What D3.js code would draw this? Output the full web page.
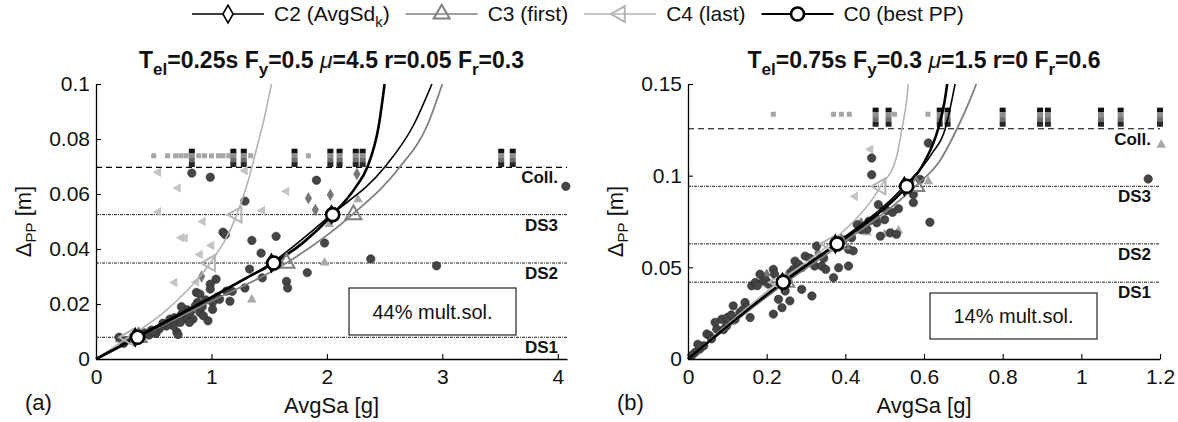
<!DOCTYPE html>
<html>
<head>
<meta charset="utf-8">
<script src="https://cdn.jsdelivr.net/npm/d3@7"></script>
<style>
body { margin: 0; background: #fff; }
text { font-family: "Liberation Sans", Arial, sans-serif; fill: #111; }
</style>
</head>
<body>
<div id="chart"></div>
<script>
// tick labels
var xTicksA = [0, 1, 2, 3, 4];
var yTicksA = [0, 0.02, 0.04, 0.06, 0.08, 0.1];
var xTicksB = [0, 0.2, 0.4, 0.6, 0.8, 1, 1.2];
var yTicksB = [0, 0.05, 0.1, 0.15];

// damage state thresholds [DS1, DS2, DS3, Coll.]
var dsNames = ["DS1", "DS2", "DS3", "Coll."];
var dsA = [0.0079, 0.0349, 0.0525, 0.0697];
var dsB = [0.0419, 0.0628, 0.0942, 0.1256];

var legendNames = ["C2 (AvgSd", "C3 (first)", "C4 (last)", "C0 (best PP)"];
var multSol = ["44% mult.sol.", "14% mult.sol."];

// fitted curves, panel a  [AvgSa, dPP]
var c0A = [[0, 0], [0.36, 0.0079], [0.7, 0.0155], [1.0, 0.0224], [1.3, 0.0294], [1.54, 0.0349], [1.8, 0.0425], [2.05, 0.0525], [2.25, 0.0625], [2.35, 0.0697], [2.45, 0.085], [2.5, 0.1]];
var c2A = [[0, 0], [0.34, 0.0079], [1.0, 0.0226], [1.52, 0.0349], [2.04, 0.0525], [2.5, 0.0697], [2.75, 0.085], [2.91, 0.1]];
var c3A = [[0, 0], [0.37, 0.0079], [1.0, 0.021], [1.65, 0.0349], [2.22, 0.0525], [2.63, 0.0697], [2.87, 0.085], [3.0, 0.1]];
var c4A = [[0, 0], [0.28, 0.0079], [0.55, 0.0157], [0.84, 0.0272], [0.99, 0.0349], [1.22, 0.0525], [1.32, 0.065], [1.4, 0.078], [1.46, 0.088], [1.52, 0.1]];

// fitted curves, panel b
var c0B = [[0, 0], [0.242, 0.0419], [0.379, 0.0628], [0.47, 0.077], [0.556, 0.0942], [0.6, 0.107], [0.636, 0.1256], [0.652, 0.14], [0.659, 0.15]];
var c2B = [[0, 0], [0.24, 0.0419], [0.375, 0.0628], [0.55, 0.0942], [0.62, 0.112], [0.654, 0.1256], [0.671, 0.1413], [0.679, 0.15]];
var c3B = [[0, 0], [0.25, 0.0419], [0.39, 0.0628], [0.578, 0.0942], [0.64, 0.108], [0.684, 0.1256], [0.717, 0.1413], [0.733, 0.15]];
var c4B = [[0, 0], [0.23, 0.0419], [0.36, 0.0628], [0.49, 0.0942], [0.53, 0.11], [0.544, 0.1256], [0.556, 0.1413], [0.56, 0.15]];

// markers where the curves cross DS1..DS3
var mk0A = [[0.36, 0.0079], [1.54, 0.0349], [2.05, 0.0525]];
var mk2A = [[0.34, 0.0079], [1.52, 0.0349], [2.04, 0.0525]];
var mk3A = [[0.37, 0.0079], [1.65, 0.0349], [2.23, 0.0525]];
var mk4A = [[0.28, 0.0079], [0.99, 0.0349], [1.22, 0.0525]];
var mk0B = [[0.242, 0.0419], [0.379, 0.0628], [0.556, 0.0942]];
var mk2B = [[0.24, 0.0419], [0.375, 0.0628], [0.55, 0.0942]];
var mk3B = [[0.25, 0.0419], [0.39, 0.0628], [0.58, 0.0942]];
var mk4B = [[0.23, 0.0419], [0.36, 0.0628], [0.49, 0.0942]];

// single records, panel a
var ptsCircA = [[0.83, 0.0676], [0.99, 0.0661], [1.29, 0.0574], [1.10, 0.0461], [1.12, 0.0452], [1.35, 0.0431], [1.56, 0.0446], [1.91, 0.065], [4.07, 0.0628],
  [1.43, 0.0385], [1.98, 0.0422], [2.38, 0.0364], [2.95, 0.0339], [1.83, 0.0314], [1.65, 0.0282], [1.66, 0.0258], [1.33, 0.0327], [1.44, 0.0295],
  [1.29, 0.0258], [1.04, 0.029], [1.18, 0.0246], [0.99, 0.0272], [0.99, 0.0254], [0.87, 0.0242], [0.9, 0.0236], [0.88, 0.0206], [1.01, 0.0206],
  [1.07, 0.0217], [1.16, 0.021], [1.13, 0.0247], [1.01, 0.018], [0.97, 0.0139], [0.9, 0.017], [0.82, 0.0173], [0.79, 0.0145], [0.73, 0.0133],
  [0.70, 0.0098], [0.71, 0.0089], [0.67, 0.012], [0.61, 0.012], [0.55, 0.011], [0.52, 0.0093], [0.46, 0.0087], [0.40, 0.0085], [0.48, 0.0105],
  [0.26, 0.0067], [0.20, 0.0079], [0.24, 0.0057], [0.79, 0.0179], [0.86, 0.0193], [0.74, 0.0162], [0.64, 0.0145], [0.84, 0.0145], [0.93, 0.0157],
  [0.81, 0.0133], [0.76, 0.017], [0.68, 0.015], [0.58, 0.013], [0.50, 0.01], [0.42, 0.0095], [0.35, 0.007], [0.92, 0.019], [1.05, 0.0225],
  [0.95, 0.0215], [0.74, 0.019]];
var ptsDiamA = [[1.84, 0.0585], [2.03, 0.0597], [1.9, 0.0543], [2.26, 0.0673], [0.915, 0.030], [0.3, 0.0075]];
var ptsUpA = [[2.27, 0.058], [1.98, 0.035], [1.35, 0.0216], [2.02, 0.049], [0.2, 0.007]];
var ptsLeftA = [[0.54, 0.0679], [0.71, 0.0622], [0.54, 0.0535], [0.925, 0.05], [0.77, 0.044], [1.29, 0.0685], [1.65, 0.061], [1.44, 0.054],
  [0.68, 0.0278], [0.9, 0.038], [1.0, 0.0413], [0.87, 0.028], [0.74, 0.0441], [0.21, 0.0068]];

// single records, panel b
var ptsCircB = [[0.018, 0.0036], [0.03, 0.0054], [0.04, 0.0072], [0.048, 0.0136], [0.055, 0.0127], [0.073, 0.0163], [0.069, 0.02], [0.086, 0.0217],
  [0.098, 0.018], [0.1, 0.0226], [0.115, 0.029], [0.12, 0.0217], [0.132, 0.0254], [0.145, 0.0308], [0.149, 0.0281], [0.158, 0.0226], [0.162, 0.0399],
  [0.171, 0.0417], [0.183, 0.0462], [0.191, 0.0426], [0.199, 0.0426], [0.217, 0.0489], [0.217, 0.0245], [0.22, 0.0462], [0.23, 0.0326],
  [0.239, 0.028], [0.247, 0.0371], [0.259, 0.0317], [0.254, 0.0426], [0.268, 0.0489], [0.272, 0.0534], [0.281, 0.0516], [0.289, 0.038],
  [0.298, 0.0561], [0.315, 0.0344], [0.322, 0.0507], [0.327, 0.0616], [0.34, 0.0507], [0.35, 0.0489], [0.37, 0.0444], [0.383, 0.0498],
  [0.408, 0.0507], [0.408, 0.0598], [0.42, 0.059], [0.416, 0.0661], [0.43, 0.0733], [0.455, 0.0707], [0.46, 0.0752], [0.48, 0.0743],
  [0.489, 0.067], [0.514, 0.0688], [0.53, 0.068], [0.467, 0.1096], [0.467, 0.1005], [0.484, 0.0842], [0.505, 0.081], [0.52, 0.08],
  [0.477, 0.077], [0.573, 0.0897], [0.573, 0.0853], [0.615, 0.0746], [0.611, 0.1178], [1.17, 0.0982], [0.01, 0.002], [0.025, 0.008],
  [0.06, 0.011], [0.09, 0.016], [0.11, 0.024], [0.14, 0.027], [0.176, 0.04], [0.205, 0.041], [0.26, 0.047], [0.29, 0.05], [0.31, 0.055],
  [0.345, 0.055], [0.395, 0.065], [0.44, 0.0705], [0.5, 0.076], [0.535, 0.082], [0.59, 0.098]];
var ptsDiamB = [[0.2, 0.046], [0.33, 0.058], [0.44, 0.074]];
var ptsUpB = [[0.519, 0.069], [0.611, 0.0969], [1.203, 0.1168], [0.455, 0.069], [0.5, 0.068], [0.535, 0.07], [0.255, 0.043], [0.11, 0.02]];
var ptsLeftB = [[0.464, 0.1144], [0.425, 0.0887], [0.2, 0.04]];

// collapsed records (drawn above Coll.)
var collBarsA = [0.83, 1.19, 1.28, 1.72, 2.03, 2.11, 2.25, 2.31, 3.51, 3.61];
var collDotsA = [0.50, 0.62, 0.69, 0.735, 0.78, 0.89, 0.94, 1.00, 1.06, 1.10, 1.15, 1.34, 1.84];
var collBarYA = [0.0756, 0.074, 0.0723, 0.0707];
var collDotYA = 0.0739;
var collBarsB = [0.477, 0.51, 0.64, 0.66, 0.80, 0.895, 0.915, 1.05, 1.10, 1.20];
var collDotsB = [0.217, 0.37, 0.39, 0.41, 0.525, 0.61];
var collBarYB = [0.1358, 0.1332, 0.1306, 0.128];
var collDotYB = 0.1335;

var W = 1178, H = 422;

var svg = d3.select("#chart").append("svg")
    .attr("width", W)
    .attr("height", H)
    .style("background", "#fff");

var panels = [
    { left: 96, right: 567, top: 84, bottom: 359, xMax: 4.08, yMax: 0.1, xTicks: xTicksA, yTicks: yTicksA, ds: dsA,
      curves: [c4A, c3A, c2A, c0A], marks: [mk4A, mk3A, mk2A, mk0A],
      circ: ptsCircA, diam: ptsDiamA, up: ptsUpA, leftTri: ptsLeftA,
      bars: collBarsA, dots: collDotsA, barY: collBarYA, dotY: collDotYA,
      title: ["0.25", "0.5", "4.5", "0.05", "0.3"], box: [349, 288, 167, 47], boxText: multSol[0], tag: "(a)" },
    { left: 688, right: 1160, top: 84, bottom: 359, xMax: 1.2, yMax: 0.15, xTicks: xTicksB, yTicks: yTicksB, ds: dsB,
      curves: [c4B, c3B, c2B, c0B], marks: [mk4B, mk3B, mk2B, mk0B],
      circ: ptsCircB, diam: ptsDiamB, up: ptsUpB, leftTri: ptsLeftB,
      bars: collBarsB, dots: collDotsB, barY: collBarYB, dotY: collDotYB,
      title: ["0.75", "0.3", "1.5", "0", "0.6"], box: [930, 293, 167, 46], boxText: multSol[1], tag: "(b)" }
];

// curve styles in order C4, C3, C2, C0
var curveColor = ["#b4b4b4", "#808080", "#000", "#000"];
var curveWidth = [1.6, 1.8, 1.6, 2.6];
var barColors = ["#111", "#8c8c8c", "#6c6c6c", "#262626"];

var triSym = d3.symbol().type(d3.symbolTriangle);
var diaSym = d3.symbol().type(d3.symbolDiamond);

// draws one curve marker (kind: 0=C4 left tri, 1=C3 tri, 2=C2 diamond, 3=C0 circle)
function marker(g, kind, x, y) {
    if (kind === 3) {
        g.append("circle").attr("cx", x).attr("cy", y).attr("r", 6.5)
            .attr("fill", "#fff").attr("stroke", "#000").attr("stroke-width", 2.6);
    } else if (kind === 2) {
        g.append("path").attr("d", diaSym.size(90)()).attr("transform", `translate(${x},${y})`)
            .attr("fill", "#fff").attr("stroke", "#000").attr("stroke-width", 1.6);
    } else if (kind === 1) {
        g.append("path").attr("d", triSym.size(110)()).attr("transform", `translate(${x},${y})`)
            .attr("fill", "none").attr("stroke", "#808080").attr("stroke-width", 2);
    } else {
        g.append("path").attr("d", triSym.size(110)()).attr("transform", `translate(${x},${y}) rotate(-90)`)
            .attr("fill", "none").attr("stroke", "#b4b4b4").attr("stroke-width", 2);
    }
}

panels.forEach(function(p) {
    var x = d3.scaleLinear().domain([0, p.xMax]).range([p.left, p.right]);
    var y = d3.scaleLinear().domain([0, p.yMax]).range([p.bottom, p.top]);
    var g = svg.append("g");

    // threshold lines
    p.ds.forEach(function(v, i) {
        g.append("line")
            .attr("x1", x(0)).attr("x2", x(p.xMax))
            .attr("y1", y(v)).attr("y2", y(v))
            .attr("stroke", "#000")
            .attr("stroke-width", i === 3 ? 1.2 : 0.9)
            .attr("stroke-dasharray", i === 3 ? "6,4" : "3,1,1,1");
        g.append("text")
            .attr("x", x(p.xMax) - 9).attr("y", y(v) + 16)
            .attr("text-anchor", "end")
            .style("font-size", "17px").style("font-weight", "bold")
            .text(dsNames[i]);
    });

    // collapse markers
    g.selectAll(".cdot").data(p.dots).enter().append("rect")
        .attr("x", d => x(d) - 2.5).attr("y", y(p.dotY) - 2.5)
        .attr("width", 5).attr("height", 5).attr("fill", "#a6a6a6");
    p.bars.forEach(function(b) {
        p.barY.forEach(function(v, k) {
            g.append("rect")
                .attr("x", x(b) - 3).attr("y", y(v) - 2.4)
                .attr("width", 6).attr("height", 4.8)
                .attr("fill", barColors[k]);
        });
    });

    // scattered records
    g.selectAll(".lt").data(p.leftTri).enter().append("path")
        .attr("d", triSym.size(40)())
        .attr("transform", d => `translate(${x(d[0])},${y(d[1])}) rotate(-90)`)
        .attr("fill", "#c4c4c4");
    g.selectAll(".ut").data(p.up).enter().append("path")
        .attr("d", triSym.size(40)())
        .attr("transform", d => `translate(${x(d[0])},${y(d[1])})`)
        .attr("fill", "#a8a8a8");
    g.selectAll(".dm").data(p.diam).enter().append("path")
        .attr("d", diaSym.size(45)())
        .attr("transform", d => `translate(${x(d[0])},${y(d[1])})`)
        .attr("fill", "#777");
    g.selectAll(".ci").data(p.circ).enter().append("circle")
        .attr("cx", d => x(d[0])).attr("cy", d => y(d[1])).attr("r", 4.2)
        .attr("fill", "#454545").attr("stroke", "#2a2a2a").attr("stroke-width", 0.6);

    // curves
    var line = d3.line().x(d => x(d[0])).y(d => y(d[1])).curve(d3.curveMonotoneX);
    p.curves.forEach(function(c, i) {
        g.append("path").attr("d", line(c))
            .attr("fill", "none")
            .attr("stroke", curveColor[i])
            .attr("stroke-width", curveWidth[i]);
    });
    p.marks.forEach(function(m, i) {
        m.forEach(d => marker(g, i, x(d[0]), y(d[1])));
    });

    // axes
    var yAxis = g.append("g").attr("transform", `translate(${p.left},0)`)
        .call(d3.axisLeft(y).tickValues(p.yTicks).tickFormat(d => String(d)).tickSizeInner(-5).tickSizeOuter(0).tickPadding(6));
    var xAxis = g.append("g").attr("transform", `translate(0,${p.bottom})`)
        .call(d3.axisBottom(x).tickValues(p.xTicks).tickFormat(d => String(d)).tickSizeInner(-5).tickSizeOuter(0).tickPadding(10));
    [xAxis, yAxis].forEach(function(a) {
        a.select(".domain").attr("stroke", "#000").attr("stroke-width", 1.3);
        a.selectAll(".tick line").attr("stroke", "#000").attr("stroke-width", 1.1);
        a.selectAll(".tick text").style("font-size", "21px").attr("fill", "#222")
            .style("font-family", "'Liberation Sans', Arial, sans-serif");
    });

    // axis labels
    g.append("text")
        .attr("x", (p.left + p.right) / 2).attr("y", 413)
        .attr("text-anchor", "middle").style("font-size", "22px")
        .text("AvgSa [g]");
    var yl = g.append("text")
        .attr("transform", `translate(${p.left - 65},${(p.top + p.bottom) / 2}) rotate(-90)`)
        .attr("text-anchor", "middle").style("font-size", "22px");
    yl.append("tspan").text("\u0394");
    yl.append("tspan").attr("dy", 5).style("font-size", "15px").text("PP");
    yl.append("tspan").attr("dy", -5).text(" [m]");

    g.append("text").attr("x", p.left - 71).attr("y", 410)
        .style("font-size", "22px").text(p.tag);

    // title
    var t = g.append("text")
        .attr("x", (p.left + p.right) / 2).attr("y", 68)
        .attr("text-anchor", "middle")
        .style("font-size", "23px").style("font-weight", "bold");
    t.append("tspan").text("T");
    t.append("tspan").attr("dy", 7).style("font-size", "17px").text("el");
    t.append("tspan").attr("dy", -7).text("=" + p.title[0] + "s F");
    t.append("tspan").attr("dy", 7).style("font-size", "17px").text("y");
    t.append("tspan").attr("dy", -7).text("=" + p.title[1] + " ");
    t.append("tspan").style("font-style", "italic").style("font-weight", "normal").text("\u03bc");
    t.append("tspan").text("=" + p.title[2] + " r=" + p.title[3] + " F");
    t.append("tspan").attr("dy", 7).style("font-size", "17px").text("r");
    t.append("tspan").attr("dy", -7).text("=" + p.title[4]);

    // multiple solutions box
    g.append("rect")
        .attr("x", p.box[0]).attr("y", p.box[1])
        .attr("width", p.box[2]).attr("height", p.box[3])
        .attr("fill", "#fff").attr("stroke", "#222").attr("stroke-width", 1.2);
    g.append("text")
        .attr("x", p.box[0] + p.box[2] / 2).attr("y", p.box[1] + p.box[3] / 2 + 7)
        .attr("text-anchor", "middle").style("font-size", "20px")
        .text(p.boxText);
});

// legend
var legend = svg.append("g");
var lx = 192;
legendNames.forEach(function(name, i) {
    var kind = [2, 1, 0, 3][i];
    legend.append("line")
        .attr("x1", lx).attr("x2", lx + 72).attr("y1", 14).attr("y2", 14)
        .attr("stroke", curveColor[kind]).attr("stroke-width", kind === 3 ? 2 : 1.6);
    marker(legend, kind, lx + 36, 14);
    var txt = legend.append("text").attr("x", lx + 82).attr("y", 21).style("font-size", "21px");
    txt.append("tspan").text(name);
    if (i === 0) {
        txt.append("tspan").attr("dy", 6).style("font-size", "15px").text("k");
        txt.append("tspan").attr("dy", -6).text(")");
    }
    lx += 82 + txt.node().getComputedTextLength() + 16;
});
</script>
</body>
</html>
